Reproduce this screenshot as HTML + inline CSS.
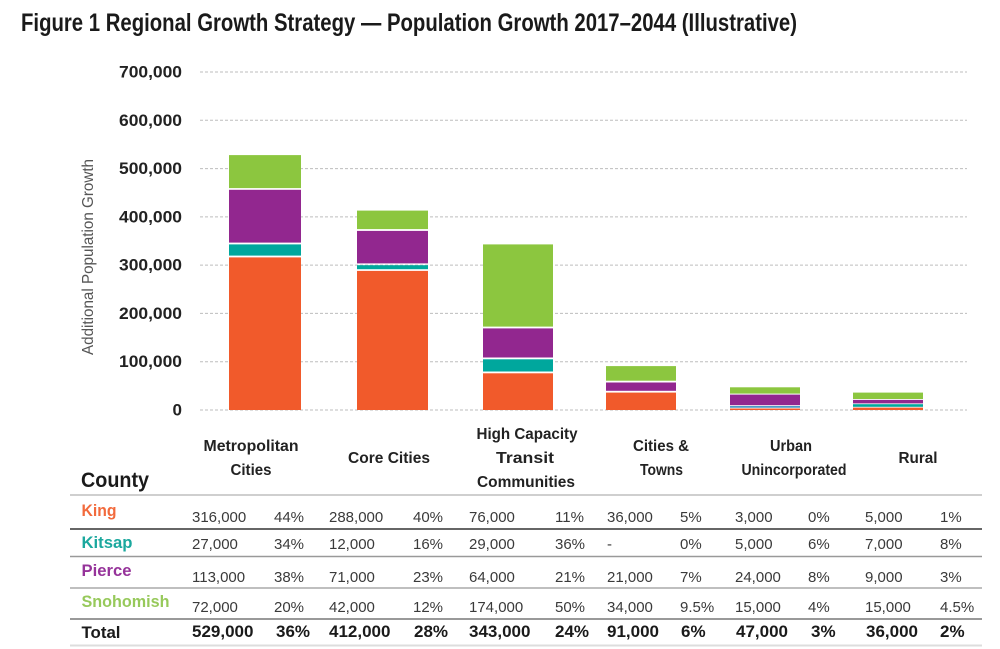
<!DOCTYPE html>
<html><head><meta charset="utf-8"><style>
html,body{margin:0;padding:0;background:#fff;}
svg{display:block;}
text{font-family:"Liberation Sans",Arial,sans-serif;}
.tk{font-weight:bold;font-size:17px;fill:#222;text-anchor:end;}
.cat{font-weight:bold;font-size:16px;fill:#222;text-anchor:middle;}
.n{font-size:15px;fill:#3a3a3a;}
.lb{font-weight:bold;font-size:17px;}
.tb{font-weight:bold;font-size:17px;fill:#1a1a1a;}
</style></head><body>
<svg width="1000" height="649" viewBox="0 0 1000 649" xmlns="http://www.w3.org/2000/svg">
<rect width="1000" height="649" fill="#fff"/>
<text x="21" y="31" font-size="25" font-weight="bold" fill="#1a1a1a" textLength="776" lengthAdjust="spacingAndGlyphs">Figure 1 Regional Growth Strategy — Population Growth 2017–2044 (Illustrative)</text>

<!-- grid -->
<g stroke="#bdbdbd" stroke-width="1" stroke-dasharray="3 2">
<line x1="200" y1="72" x2="967" y2="72"/>
<line x1="200" y1="120.3" x2="967" y2="120.3"/>
<line x1="200" y1="168.6" x2="967" y2="168.6"/>
<line x1="200" y1="216.9" x2="967" y2="216.9"/>
<line x1="200" y1="265.1" x2="967" y2="265.1"/>
<line x1="200" y1="313.4" x2="967" y2="313.4"/>
<line x1="200" y1="361.7" x2="967" y2="361.7"/>
<line x1="200" y1="410" x2="967" y2="410"/>
</g>
<text class="tk" x="182" y="77.5" textLength="63" lengthAdjust="spacingAndGlyphs">700,000</text>
<text class="tk" x="182" y="125.8" textLength="63" lengthAdjust="spacingAndGlyphs">600,000</text>
<text class="tk" x="182" y="174.1" textLength="63" lengthAdjust="spacingAndGlyphs">500,000</text>
<text class="tk" x="182" y="222.4" textLength="63" lengthAdjust="spacingAndGlyphs">400,000</text>
<text class="tk" x="182" y="270.6" textLength="63" lengthAdjust="spacingAndGlyphs">300,000</text>
<text class="tk" x="182" y="318.9" textLength="63" lengthAdjust="spacingAndGlyphs">200,000</text>
<text class="tk" x="182" y="367.2" textLength="63" lengthAdjust="spacingAndGlyphs">100,000</text>
<text class="tk" x="182" y="415.5">0</text>

<text transform="translate(93,257) rotate(-90)" font-size="16" fill="#555" text-anchor="middle" textLength="196" lengthAdjust="spacingAndGlyphs">Additional Population Growth</text>

<!-- bars -->
<g>
<!-- Metropolitan -->
<rect x="229" y="257.4" width="72" height="152.6" fill="#F15A2B"/>
<rect x="229" y="244.4" width="72" height="11.2" fill="#00A79D"/>
<rect x="229" y="189.8" width="72" height="52.8" fill="#92278F"/>
<rect x="229" y="155.1" width="72" height="33" fill="#8CC63F"/>
<!-- Core -->
<rect x="357" y="270.9" width="71" height="139.1" fill="#F15A2B"/>
<rect x="357" y="265.2" width="71" height="4" fill="#00A79D"/>
<rect x="357" y="230.9" width="71" height="32.5" fill="#92278F"/>
<rect x="357" y="210.6" width="71" height="18.5" fill="#8CC63F"/>
<!-- HCT -->
<rect x="483" y="373.3" width="70" height="36.7" fill="#F15A2B"/>
<rect x="483" y="359.3" width="70" height="12.2" fill="#00A79D"/>
<rect x="483" y="328.4" width="70" height="29.1" fill="#92278F"/>
<rect x="483" y="244.4" width="70" height="82.2" fill="#8CC63F"/>
<!-- Cities & Towns -->
<rect x="606" y="392.6" width="70" height="17.4" fill="#F15A2B"/>
<rect x="606" y="382.5" width="70" height="8.3" fill="#92278F"/>
<rect x="606" y="366.1" width="70" height="14.6" fill="#8CC63F"/>
<!-- Urban -->
<rect x="730" y="408.5" width="70" height="1.5" fill="#F15A2B"/>
<rect x="730" y="406.1" width="70" height="1.6" fill="#3a8fc0"/>
<rect x="730" y="394.6" width="70" height="10.6" fill="#92278F"/>
<rect x="730" y="387.3" width="70" height="6.3" fill="#8CC63F"/>
<!-- Rural -->
<rect x="853" y="407.6" width="70" height="2.4" fill="#F15A2B"/>
<rect x="853" y="404.2" width="70" height="2.6" fill="#00A79D"/>
<rect x="853" y="399.9" width="70" height="3.5" fill="#92278F"/>
<rect x="853" y="392.6" width="70" height="6.4" fill="#8CC63F"/>
</g>

<!-- category labels -->
<text class="cat" x="251" y="451" textLength="95" lengthAdjust="spacingAndGlyphs">Metropolitan</text>
<text class="cat" x="251" y="475" textLength="41" lengthAdjust="spacingAndGlyphs">Cities</text>
<text class="cat" x="389" y="463" textLength="82" lengthAdjust="spacingAndGlyphs">Core Cities</text>
<text class="cat" x="527" y="439" textLength="101" lengthAdjust="spacingAndGlyphs">High Capacity</text>
<text class="cat" x="525" y="463" textLength="58" lengthAdjust="spacingAndGlyphs">Transit</text>
<text class="cat" x="526" y="487" textLength="98" lengthAdjust="spacingAndGlyphs">Communities</text>
<text class="cat" x="661" y="451" textLength="56" lengthAdjust="spacingAndGlyphs">Cities &amp;</text>
<text class="cat" x="661.5" y="475" textLength="43" lengthAdjust="spacingAndGlyphs">Towns</text>
<text class="cat" x="791" y="451" textLength="42" lengthAdjust="spacingAndGlyphs">Urban</text>
<text class="cat" x="794" y="475" textLength="105" lengthAdjust="spacingAndGlyphs">Unincorporated</text>
<text class="cat" x="918" y="463" textLength="39" lengthAdjust="spacingAndGlyphs">Rural</text>

<!-- table -->
<text x="81" y="487" font-size="21" font-weight="bold" fill="#1a1a1a" textLength="68" lengthAdjust="spacingAndGlyphs">County</text>
<line x1="70" y1="495" x2="982" y2="495" stroke="#cfcfcf" stroke-width="2"/>
<line x1="70" y1="529" x2="982" y2="529" stroke="#333" stroke-width="1.5"/>
<line x1="70" y1="556.5" x2="982" y2="556.5" stroke="#999" stroke-width="1.5"/>
<line x1="70" y1="588" x2="982" y2="588" stroke="#aaa" stroke-width="1.5"/>
<line x1="70" y1="619" x2="982" y2="619" stroke="#999" stroke-width="2"/>
<line x1="70" y1="645.5" x2="982" y2="645.5" stroke="#ddd" stroke-width="2"/>

<text class="lb" x="81.5" y="516" fill="#F26A3C" textLength="35" lengthAdjust="spacingAndGlyphs">King</text>
<text class="lb" x="81.5" y="548" fill="#1BA89E" textLength="51" lengthAdjust="spacingAndGlyphs">Kitsap</text>
<text class="lb" x="81.5" y="576" fill="#96339A" textLength="50" lengthAdjust="spacingAndGlyphs">Pierce</text>
<text class="lb" x="81.5" y="607" fill="#97C95B" textLength="88" lengthAdjust="spacingAndGlyphs">Snohomish</text>
<text class="lb" x="81.5" y="638" fill="#1a1a1a" textLength="39" lengthAdjust="spacingAndGlyphs">Total</text>

<g class="n">
<text x="192" y="522">316,000</text><text x="274" y="522">44%</text>
<text x="329" y="522">288,000</text><text x="413" y="522">40%</text>
<text x="469" y="522">76,000</text><text x="555" y="522">11%</text>
<text x="607" y="522">36,000</text><text x="680" y="522">5%</text>
<text x="735" y="522">3,000</text><text x="808" y="522">0%</text>
<text x="865" y="522">5,000</text><text x="940" y="522">1%</text>

<text x="192" y="549">27,000</text><text x="274" y="549">34%</text>
<text x="329" y="549">12,000</text><text x="413" y="549">16%</text>
<text x="469" y="549">29,000</text><text x="555" y="549">36%</text>
<text x="607" y="549">-</text><text x="680" y="549">0%</text>
<text x="735" y="549">5,000</text><text x="808" y="549">6%</text>
<text x="865" y="549">7,000</text><text x="940" y="549">8%</text>

<text x="192" y="582">113,000</text><text x="274" y="582">38%</text>
<text x="329" y="582">71,000</text><text x="413" y="582">23%</text>
<text x="469" y="582">64,000</text><text x="555" y="582">21%</text>
<text x="607" y="582">21,000</text><text x="680" y="582">7%</text>
<text x="735" y="582">24,000</text><text x="808" y="582">8%</text>
<text x="865" y="582">9,000</text><text x="940" y="582">3%</text>

<text x="192" y="612">72,000</text><text x="274" y="612">20%</text>
<text x="329" y="612">42,000</text><text x="413" y="612">12%</text>
<text x="469" y="612">174,000</text><text x="555" y="612">50%</text>
<text x="607" y="612">34,000</text><text x="680" y="612">9.5%</text>
<text x="735" y="612">15,000</text><text x="808" y="612">4%</text>
<text x="865" y="612">15,000</text><text x="940" y="612">4.5%</text>
</g>

<g class="tb">
<text x="192" y="637">529,000</text><text x="276" y="637">36%</text>
<text x="329" y="637">412,000</text><text x="414" y="637">28%</text>
<text x="469" y="637">343,000</text><text x="555" y="637">24%</text>
<text x="607" y="637">91,000</text><text x="681" y="637">6%</text>
<text x="736" y="637">47,000</text><text x="811" y="637">3%</text>
<text x="866" y="637">36,000</text><text x="940" y="637">2%</text>
</g>
</svg>
</body></html>
